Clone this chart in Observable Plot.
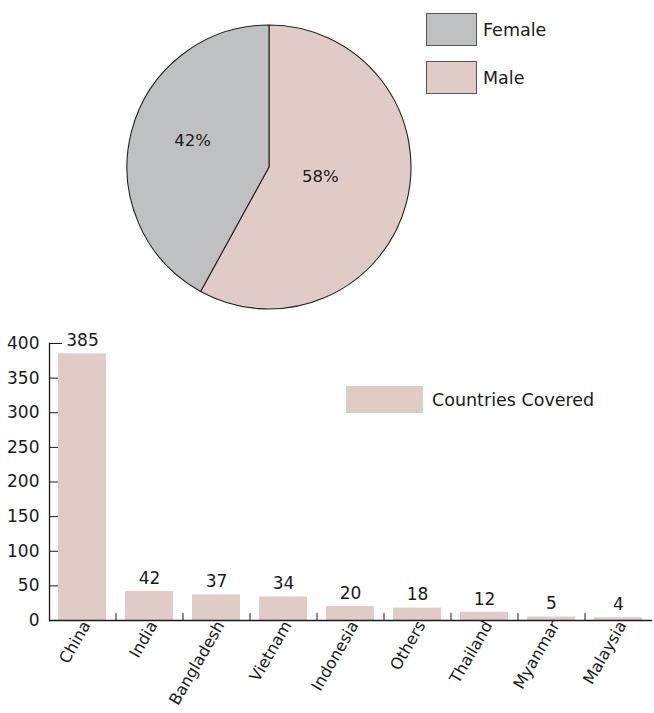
<!DOCTYPE html>
<html>
<head>
<meta charset="utf-8">
<script src="https://cdn.jsdelivr.net/npm/d3@7"></script>
<script src="https://cdn.jsdelivr.net/npm/@observablehq/plot@0.6"></script>
<style>
  body { margin: 0; background: #fff; font-family: "DejaVu Sans", sans-serif; color: #1a1a1a; }
  #wrap { position: relative; width: 654px; height: 713px; }
  #pie, #bars { position: absolute; left: 0; }
  #pie { top: 0; }
  #bars { top: 315px; }
  .lg { position: absolute; display: flex; align-items: center; font-size: 17.5px; }
  .sw { box-sizing: border-box; }
</style>
</head>
<body>
<div id="wrap">
  <div id="pie"></div>
  <div id="bars"></div>
  <div class="lg" style="left:426px; top:13px; height:33px;">
    <div class="sw" style="width:51px; height:33px; background:#bfc0c2; border:1.5px solid #555;"></div>
    <span style="margin-left:6px;">Female</span>
  </div>
  <div class="lg" style="left:426px; top:61px; height:33px;">
    <div class="sw" style="width:51px; height:33px; background:#e0cbc6; border:1.5px solid #555;"></div>
    <span style="margin-left:6px;">Male</span>
  </div>
  <div class="lg" style="left:346px; top:386px; height:27px;">
    <div class="sw" style="width:77px; height:27px; background:#e0cbc6;"></div>
    <span style="margin-left:9px;">Countries Covered</span>
  </div>
</div>
<script>
// ---- Data ----
const genderLabels = ["Female", "Male"];
const genderValues = [42, 58];
const genderColors = ["#bfc0c2", "#e0cbc6"];
const labelRadius = [0.56, 0.37];

const countries = ["China", "India", "Bangladesh", "Vietnam", "Indonesia", "Others", "Thailand", "Myanmar", "Malaysia"];
const countryValues = [385, 42, 37, 34, 20, 18, 12, 5, 4];
const yTicks = [0, 50, 100, 150, 200, 250, 300, 350, 400];

const barColor = "#e0cbc6";
const font = "DejaVu Sans, sans-serif";

// ---- Pie ----
const genderData = genderLabels.map((g, i) => ({g, v: genderValues[i], color: genderColors[i], lr: labelRadius[i]}));
// Male starts at 12 o'clock going clockwise, Female follows
const pieOrder = [genderData[1], genderData[0]];
const arcs = d3.pie().sort(null).value(d => d.v)(pieOrder);
const total = d3.sum(genderValues);
const labelData = arcs.map(a => {
  const mid = (a.startAngle + a.endAngle) / 2;
  return {text: Math.round(a.data.v / total * 100) + "%", x: Math.sin(mid) * a.data.lr, y: Math.cos(mid) * a.data.lr + (a.data.g === "Female" ? 0.05 : 0.03)};
});

const pieMark = (index, scales, values, dimensions, context) => {
  const cx = scales.x(0), cy = scales.y(0);
  const r = scales.x(1) - scales.x(0);
  const arcGen = d3.arc().innerRadius(0).outerRadius(r);
  const g = d3.create("svg:g").attr("transform", `translate(${cx},${cy})`);
  g.selectAll("path").data(arcs).join("path")
    .attr("d", arcGen)
    .attr("fill", d => d.data.color)
    .attr("stroke", "#222")
    .attr("stroke-width", 1.1)
    .attr("stroke-linejoin", "round");
  return g.node();
};

const pie = Plot.plot({
  width: 654, height: 315,
  marginLeft: 127, marginRight: 243, marginTop: 25, marginBottom: 6,
  x: {domain: [-1, 1], axis: null},
  y: {domain: [-1, 1], axis: null},
  style: {fontFamily: font, fontSize: "16px", background: "transparent"},
  marks: [
    pieMark,
    Plot.text(labelData, {x: "x", y: "y", text: "text", fontSize: 16.5, fill: "#1a1a1a"})
  ]
});
document.getElementById("pie").append(pie);

// ---- Bars ----
const barData = countries.map((c, i) => ({c, v: countryValues[i]}));
const step = (654 - 49 - 2) / countries.length;

const bars = Plot.plot({
  width: 654, height: 398,
  marginLeft: 49, marginRight: 2, marginTop: 28, marginBottom: 93,
  style: {fontFamily: font, fontSize: "17px", color: "#1a1a1a", background: "transparent"},
  x: {domain: countries, paddingInner: 0.28, paddingOuter: 0.14, label: null},
  y: {domain: [0, 400], label: null},
  marks: [
    Plot.ruleY(yTicks, {y: d => d, insetRight: 654 - 49 - 2 - 13, stroke: "#1a1a1a"}),
    Plot.barY(barData, {x: "c", y: "v", fill: barColor}),
    Plot.ruleX(countries.slice(1), {x: d => d, dx: -step / 2, y1: 0, y2: 10, stroke: "#1a1a1a"}),
    Plot.ruleY([0], {stroke: "#1a1a1a", strokeWidth: 1.5}),
    Plot.frame({anchor: "left", stroke: "#1a1a1a", strokeWidth: 1.3}),
    Plot.axisY({ticks: yTicks, tickSize: 0, tickPadding: 10, fontSize: 17, label: null}),
    Plot.axisX({tickSize: 0, tickPadding: 2, tickRotate: -60, fontSize: 16, dx: 4, label: null}),
    Plot.text(barData, {x: "c", y: "v", text: d => String(d.v), dy: -13, fontSize: 17, fill: "#1a1a1a"})
  ]
});
document.getElementById("bars").append(bars);
</script>
</body>
</html>
